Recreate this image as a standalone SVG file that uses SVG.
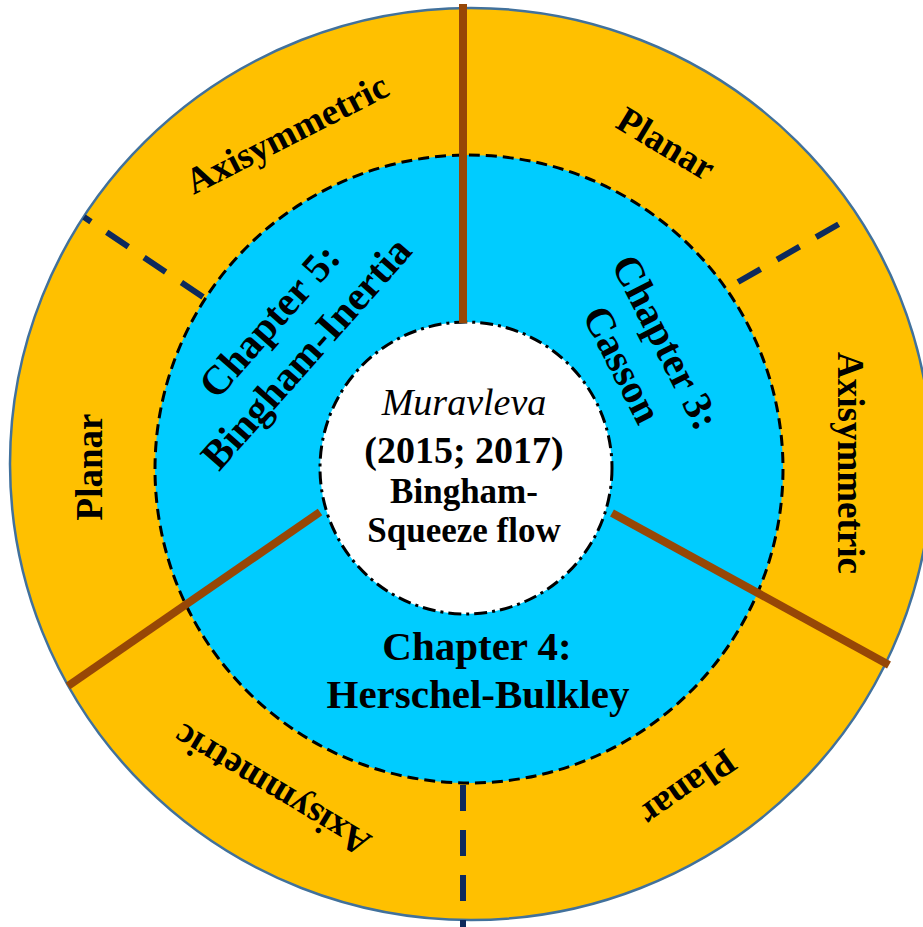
<svg xmlns="http://www.w3.org/2000/svg" width="923" height="927" viewBox="0 0 923 927">
<style>
.t{font-family:"Liberation Serif","Times New Roman",serif;font-weight:bold;fill:#000;text-anchor:middle}
.o{font-size:37px}
.ch{font-size:41px}
.brown{stroke:#974706;stroke-width:8;fill:none}
.navy{stroke:#0E2A5C;stroke-width:6;stroke-dasharray:26 19;fill:none}
</style>
<rect width="923" height="927" fill="#fff"/>
<g id="outer-ring">
<ellipse cx="471" cy="464" rx="461" ry="456" fill="#FFC000" stroke="#41719C" stroke-width="2.5"/>
</g>
<g id="chapters-ring">
<circle cx="469" cy="469" r="314" fill="#00CCFF" stroke="#000" stroke-width="3" stroke-dasharray="11 6"/>
</g>
<g id="center">
<circle cx="466" cy="468" r="146" fill="#fff" stroke="#000" stroke-width="3" stroke-dasharray="13 5 3 5"/>
</g>
<g id="connectors">
<line class="brown" x1="463" y1="4" x2="463" y2="323"/>
<line class="brown" x1="612" y1="513" x2="889" y2="665"/>
<line class="brown" x1="320" y1="512" x2="68" y2="686"/>
<line class="navy" x1="203" y1="297" x2="84" y2="217"/>
<line class="navy" x1="738" y1="282" x2="846" y2="220"/>
<line class="navy" x1="463" y1="785" x2="463" y2="927"/>
</g>
<g id="center-text">
<text class="t" x="464" y="415" style="font-size:38px;font-weight:normal;font-style:italic">Muravleva</text>
<text class="t" x="464" y="463" style="font-size:38px">(2015; 2017)</text>
<text class="t" x="464" y="503" style="font-size:35px">Bingham-</text>
<text class="t" x="464" y="542" style="font-size:35px">Squeeze flow</text>
</g>
<g id="chapter5" transform="translate(298,346) rotate(-48.5)">
<text class="t ch" x="0" y="-24.5">Chapter 5:</text>
<text class="t ch" x="0" y="24.5">Bingham-Inertia</text>
</g>
<g id="chapter3" transform="translate(644,353.5) rotate(63)">
<text class="t ch" x="0" y="-11">Chapter 3:</text>
<text class="t ch" x="0" y="38">Casson</text>
</g>
<g id="chapter4">
<text class="t ch" x="477" y="660">Chapter 4:</text>
<text class="t ch" x="478" y="708">Herschel-Bulkley</text>
</g>
<g id="ch5-axisymmetric" transform="translate(287,134) rotate(-27)"><text class="t o" x="0" y="12">Axisymmetric</text></g>
<g id="ch3-planar" transform="translate(666,144) rotate(31)"><text class="t o" x="0" y="12">Planar</text></g>
<g id="ch3-axisymmetric" transform="translate(850,463) rotate(90)"><text class="t o" x="0" y="12">Axisymmetric</text></g>
<g id="ch4-planar" transform="translate(688,788) rotate(145)"><text class="t o" x="0" y="12">Planar</text></g>
<g id="ch4-axisymmetric" transform="translate(272,790) rotate(211)"><text class="t o" x="0" y="12">Axisymmetric</text></g>
<g id="ch5-planar" transform="translate(90,467) rotate(-90)"><text class="t o" x="0" y="12">Planar</text></g>
</svg>
